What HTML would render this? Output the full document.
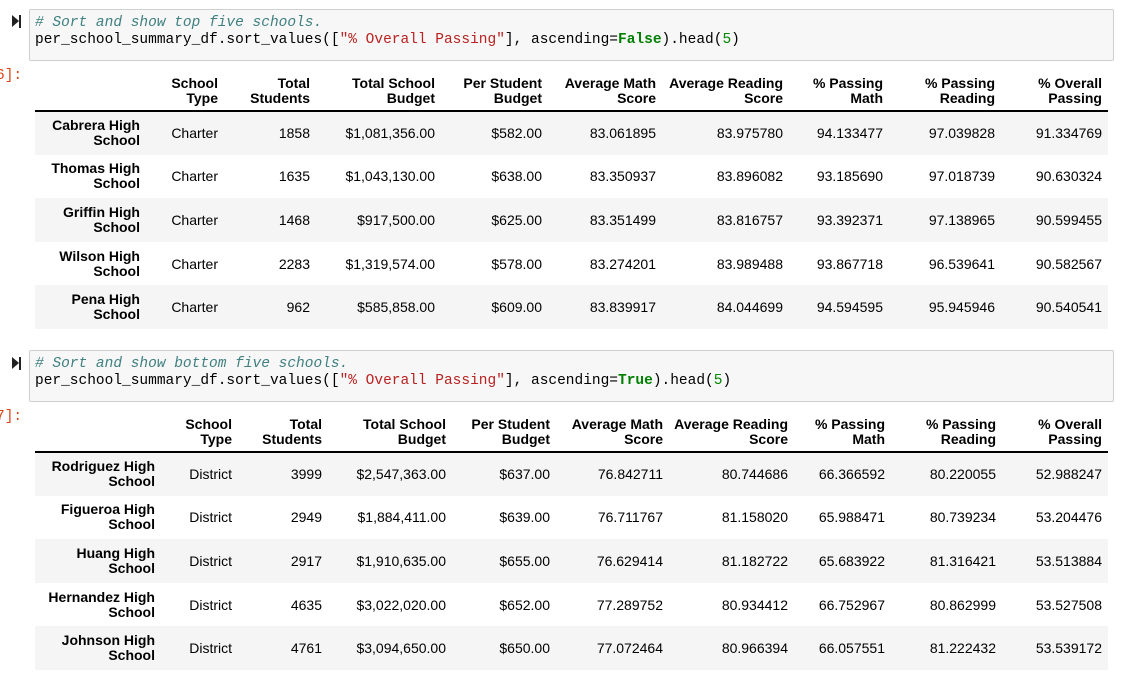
<!DOCTYPE html>
<html><head><meta charset="utf-8">
<style>
body{margin:0;width:1123px;height:682px;background:#fff;position:relative;overflow:hidden;font-family:"Liberation Sans",Arial,sans-serif;}
.cell{position:absolute;left:29px;width:1083px;height:50px;background:#f7f7f7;border:1px solid #cfcfcf;border-radius:2px;}
.code{position:absolute;left:5px;top:5px;font-family:"Liberation Mono",monospace;font-size:14.5px;line-height:17px;color:#000;white-space:pre;}
.cm{color:#408080;font-style:italic}.st{color:#ba2121}.kw{color:#008000;font-weight:bold}.nm{color:#080}
.run{position:absolute;left:12px;width:10px;height:13px;}
.run:before{content:"";position:absolute;left:0;top:0;border-left:7px solid #222;border-top:6.5px solid transparent;border-bottom:6.5px solid transparent;}
.run:after{content:"";position:absolute;left:7px;top:0;width:2px;height:13px;background:#222;}
.prompt{position:absolute;left:-4px;font-family:"Liberation Mono",monospace;font-size:14.5px;color:#d84315;}
table{position:absolute;left:35px;border-collapse:collapse;table-layout:fixed;font-size:14px;color:#000;}
th,td{text-align:right;padding:0;vertical-align:middle;}
thead th{height:40px;line-height:15px;font-weight:bold;vertical-align:bottom;padding-bottom:4px;}
thead tr{border-bottom:2px solid #000;}
tbody th{font-weight:bold;line-height:15px;}
tbody tr{height:43.6px;}
tbody tr:nth-child(odd){background:#f5f5f5;}
td:last-child,th:last-child{padding-right:6px;}
</style></head><body>
<div class="run" style="top:15px"></div>
<div class="cell" style="top:9px">
<div class="code"><span class="cm"># Sort and show top five schools.</span>
per_school_summary_df.sort_values([<span class="st">"% Overall Passing"</span>], ascending=<span class="kw">False</span>).head(<span class="nm">5</span>)</div></div>
<div class="prompt" style="top:68px">6]:</div>
<table style="top:66px;width:1073px">
<colgroup><col style="width:105px"><col style="width:78px"><col style="width:92px"><col style="width:125px"><col style="width:107px"><col style="width:114px"><col style="width:127px"><col style="width:100px"><col style="width:112px"><col style="width:113px"></colgroup>
<thead><tr><th></th><th>School<br>Type</th><th>Total<br>Students</th><th>Total School<br>Budget</th><th>Per Student<br>Budget</th><th>Average Math<br>Score</th><th>Average Reading<br>Score</th><th>% Passing<br>Math</th><th>% Passing<br>Reading</th><th>% Overall<br>Passing</th></tr></thead>
<tbody>
<tr><th>Cabrera High<br>School</th><td>Charter</td><td>1858</td><td>$1,081,356.00</td><td>$582.00</td><td>83.061895</td><td>83.975780</td><td>94.133477</td><td>97.039828</td><td>91.334769</td></tr>
<tr><th>Thomas High<br>School</th><td>Charter</td><td>1635</td><td>$1,043,130.00</td><td>$638.00</td><td>83.350937</td><td>83.896082</td><td>93.185690</td><td>97.018739</td><td>90.630324</td></tr>
<tr><th>Griffin High<br>School</th><td>Charter</td><td>1468</td><td>$917,500.00</td><td>$625.00</td><td>83.351499</td><td>83.816757</td><td>93.392371</td><td>97.138965</td><td>90.599455</td></tr>
<tr><th>Wilson High<br>School</th><td>Charter</td><td>2283</td><td>$1,319,574.00</td><td>$578.00</td><td>83.274201</td><td>83.989488</td><td>93.867718</td><td>96.539641</td><td>90.582567</td></tr>
<tr><th>Pena High<br>School</th><td>Charter</td><td>962</td><td>$585,858.00</td><td>$609.00</td><td>83.839917</td><td>84.044699</td><td>94.594595</td><td>95.945946</td><td>90.540541</td></tr>
</tbody></table>

<div class="run" style="top:357px"></div>
<div class="cell" style="top:350px">
<div class="code"><span class="cm"># Sort and show bottom five schools.</span>
per_school_summary_df.sort_values([<span class="st">"% Overall Passing"</span>], ascending=<span class="kw">True</span>).head(<span class="nm">5</span>)</div></div>
<div class="prompt" style="top:409px">7]:</div>
<table style="top:407px;width:1073px">
<colgroup><col style="width:120px"><col style="width:77px"><col style="width:90px"><col style="width:124px"><col style="width:104px"><col style="width:113px"><col style="width:125px"><col style="width:97px"><col style="width:111px"><col style="width:112px"></colgroup>
<thead><tr><th></th><th>School<br>Type</th><th>Total<br>Students</th><th>Total School<br>Budget</th><th>Per Student<br>Budget</th><th>Average Math<br>Score</th><th>Average Reading<br>Score</th><th>% Passing<br>Math</th><th>% Passing<br>Reading</th><th>% Overall<br>Passing</th></tr></thead>
<tbody>
<tr><th>Rodriguez High<br>School</th><td>District</td><td>3999</td><td>$2,547,363.00</td><td>$637.00</td><td>76.842711</td><td>80.744686</td><td>66.366592</td><td>80.220055</td><td>52.988247</td></tr>
<tr><th>Figueroa High<br>School</th><td>District</td><td>2949</td><td>$1,884,411.00</td><td>$639.00</td><td>76.711767</td><td>81.158020</td><td>65.988471</td><td>80.739234</td><td>53.204476</td></tr>
<tr><th>Huang High<br>School</th><td>District</td><td>2917</td><td>$1,910,635.00</td><td>$655.00</td><td>76.629414</td><td>81.182722</td><td>65.683922</td><td>81.316421</td><td>53.513884</td></tr>
<tr><th>Hernandez High<br>School</th><td>District</td><td>4635</td><td>$3,022,020.00</td><td>$652.00</td><td>77.289752</td><td>80.934412</td><td>66.752967</td><td>80.862999</td><td>53.527508</td></tr>
<tr><th>Johnson High<br>School</th><td>District</td><td>4761</td><td>$3,094,650.00</td><td>$650.00</td><td>77.072464</td><td>80.966394</td><td>66.057551</td><td>81.222432</td><td>53.539172</td></tr>
</tbody></table>
</body></html>
